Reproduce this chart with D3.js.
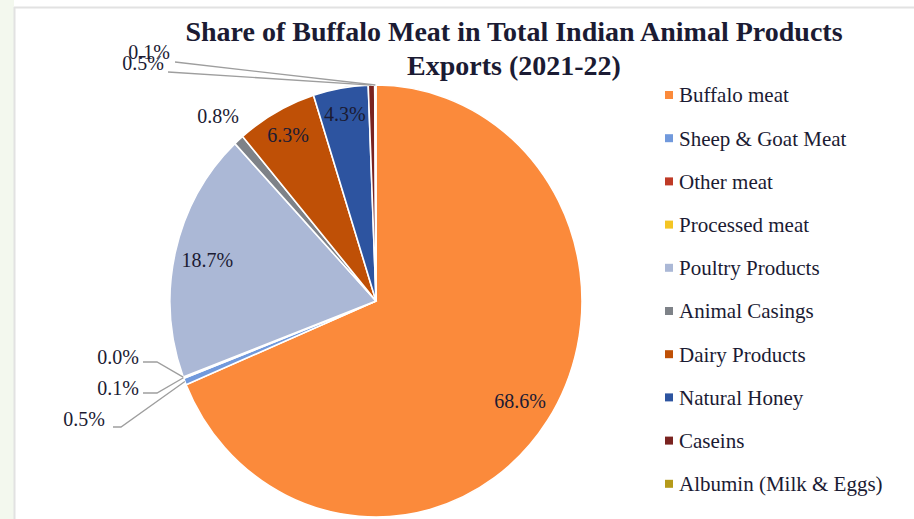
<!DOCTYPE html>
<html>
<head>
<meta charset="utf-8">
<script src="https://cdn.jsdelivr.net/npm/d3@7"></script>
<style>
  html, body { margin: 0; padding: 0; background: #ffffff; }
  svg { display: block; }
</style>
</head>
<body>
<svg id="chart" width="914" height="519"></svg>
<script>
// ---- data ----
const categories = ["Buffalo meat", "Sheep & Goat Meat", "Other meat", "Processed meat",
  "Poultry Products", "Animal Casings", "Dairy Products", "Natural Honey", "Caseins", "Albumin (Milk & Eggs)"];
const shares = [68.6, 0.5, 0.1, 0.0, 18.7, 0.8, 6.3, 4.3, 0.5, 0.1];
const colors = ["#fb8a3b", "#7199dc", "#bf3a26", "#f4c524", "#abb8d6", "#7e8288", "#bf5006", "#2d54a0", "#7a2320", "#b59a1a"];
const titleLines = ["Share of Buffalo Meat in Total Indian Animal Products", "Exports (2021-22)"];

// ---- layout ----
const W = 914, H = 519;
const cx = 376, cy = 301, rx = 206, ry = 216;
const svg = d3.select("#chart");
const textColor = "#1b1b33";
const serif = "'Liberation Serif', 'Times New Roman', serif";

// frame
svg.append("rect").attr("x", 0).attr("y", 0).attr("width", 14).attr("height", H).attr("fill", "#f3f8ee");
svg.append("line").attr("x1", 14.5).attr("x2", 14.5).attr("y1", 7).attr("y2", H).attr("stroke", "#e2e2e2").attr("stroke-width", 2);
svg.append("line").attr("x1", 14).attr("x2", W).attr("y1", 7.5).attr("y2", 7.5).attr("stroke", "#e2e2e2").attr("stroke-width", 2);

// title
const title = svg.append("text").attr("x", 514).attr("text-anchor", "middle")
  .attr("font-family", serif).attr("font-weight", "bold").attr("font-size", 28).attr("fill", textColor);
titleLines.forEach((t, i) => {
  title.append("tspan").attr("x", 514).attr("y", 41 + i * 34).text(t);
});

// pie
const data = categories.map((c, i) => ({ name: c, value: shares[i], color: colors[i], idx: i }));
const pie = d3.pie().sort(null).value(d => d.value).startAngle(0).endAngle(2 * Math.PI);
const arcs = pie(data);
const arc = d3.arc().innerRadius(0).outerRadius(rx);

const g = svg.append("g").attr("transform", `translate(${cx},${cy}) scale(1,${ry / rx})`);
g.selectAll("path").data(arcs).join("path")
  .attr("d", arc)
  .attr("fill", d => d.data.color)
  .attr("stroke", "#ffffff")
  .attr("stroke-width", 1.6)
  .attr("vector-effect", "non-scaling-stroke");

function pt(angle, k) {
  return [cx + k * rx * Math.sin(angle), cy - k * ry * Math.cos(angle)];
}
const mid = d => (d.startAngle + d.endAngle) / 2;
const fmt = v => v.toFixed(1) + "%";
const labelFont = 20;

function addLabel(x, y, txt, anchor) {
  svg.append("text").attr("x", x).attr("y", y).attr("dy", "0.35em")
    .attr("text-anchor", anchor || "middle")
    .attr("font-family", serif).attr("font-size", labelFont).attr("fill", textColor)
    .text(txt);
}

// inside labels for larger slices
arcs.forEach(d => {
  if (d.data.value >= 4) {
    const k = d.data.value > 10 ? 0.84 : 0.88;
    const [x, y] = pt(mid(d), k);
    addLabel(x, y, fmt(d.data.value));
  }
});

// Animal casings: outside, no leader
{
  const d = arcs[5];
  const [x, y] = pt(mid(d), 1.15);
  addLabel(x, y, fmt(d.data.value));
}

// leader-line labels (label layout)
const leaderLayout = {
  1: { text: [105, 419], path: [[113, 427], [121, 427]] },   // Sheep & Goat
  2: { text: [139, 388], path: [[143, 393], [157, 393]] },   // Other meat
  3: { text: [139, 357], path: [[143, 362], [157, 362]] },   // Processed meat
  8: { text: [164, 63], path: [[168, 72]] },                 // Caseins
  9: { text: [170, 52], path: [[175, 62]] }                  // Albumin
};
Object.keys(leaderLayout).forEach(key => {
  const d = arcs[+key];
  const L = leaderLayout[key];
  const anchorPt = pt(mid(d), 1.0);
  const pts = L.path.concat([anchorPt]);
  svg.append("path")
    .attr("d", d3.line()(pts))
    .attr("fill", "none").attr("stroke", "#9e9e9e").attr("stroke-width", 1.3);
  addLabel(L.text[0], L.text[1], fmt(d.data.value), "end");
});

// legend
const lg = svg.append("g");
const lx = 665, ly0 = 95, lstep = 43.2;
categories.forEach((c, i) => {
  const y = ly0 + i * lstep;
  lg.append("rect").attr("x", lx).attr("y", y - 4).attr("width", 8).attr("height", 8).attr("fill", colors[i]);
  lg.append("text").attr("x", lx + 14).attr("y", y).attr("dy", "0.35em")
    .attr("font-family", serif).attr("font-size", 21).attr("fill", textColor).text(c);
});
</script>
</body>
</html>
